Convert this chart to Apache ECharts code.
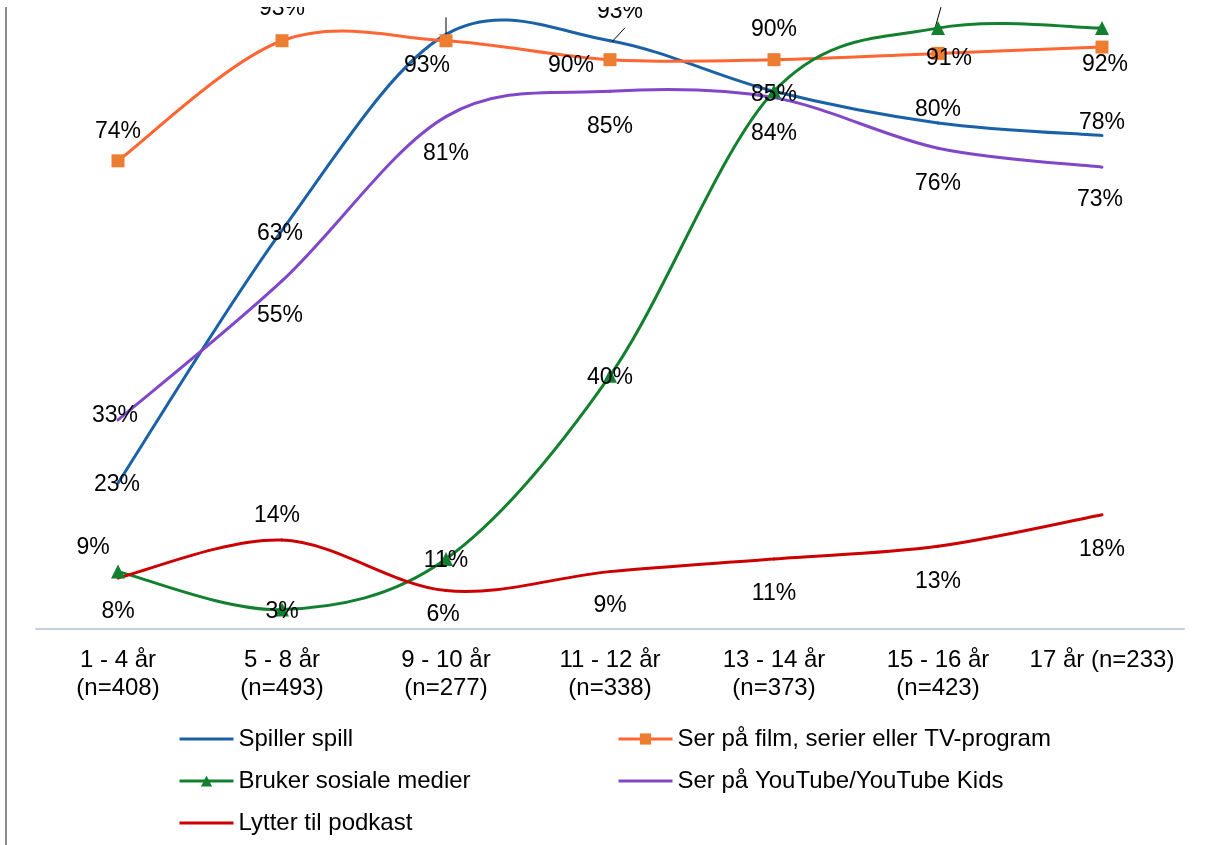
<!DOCTYPE html>
<html>
<head>
<meta charset="utf-8">
<script src="https://cdn.jsdelivr.net/npm/echarts@6/dist/echarts.min.js"></script>
<style>
  html, body { margin: 0; padding: 0; background: #fff; }
  body { position: relative; width: 1208px; height: 845px; overflow: hidden; }
  #chart { position: absolute; left: 0; top: 7px; width: 1208px; height: 838px; }
</style>
</head>
<body>
<div id="chart"></div>
<script>
// Age groups (with sample sizes) along the x axis
const ageGroups = [
  '1 - 4 år\n(n=408)',
  '5 - 8 år\n(n=493)',
  '9 - 10 år\n(n=277)',
  '11 - 12 år\n(n=338)',
  '13 - 14 år\n(n=373)',
  '15 - 16 år\n(n=423)',
  '17 år (n=233)'
];

// Share of children doing each activity, in percent
const spillerSpill   = [23, 63, 94, 93, 85, 80, 78];
const serPaFilm      = [74, 93, 93, 90, 90, 91, 92];
const sosialeMedier  = [9, 3, 11, 40, 85, 95, 95];
const serPaYouTube   = [33, 55, 81, 85, 84, 76, 73];
const lytterPodkast  = [8, 14, 6, 9, 11, 13, 18];

const seriesNames = [
  'Spiller spill',
  'Ser på film, serier eller TV-program',
  'Bruker sosiale medier',
  'Ser på YouTube/YouTube Kids',
  'Lytter til podkast'
];

// Label placement (dx, dy in px from the point) for each series
const labelShift = [
  [[-1, 2], [-2, 3], [0, -48], [10, -29], [0, 3], [0, -13], [0, -13]],
  [[0, -29], [0, -32], [-19, 25], [-39, 6], [0, -30], [11, 5], [3, 18]],
  [[-25, -24], [0, 2], [0, 2], [0, 2], [0, 3], [8, -44], [0, -70]],
  [[-3, -4], [-2, 35], [0, 37], [0, 35], [0, 36], [0, 35], [-2, 33]],
  [[0, 34], [-5, -24], [-3, 24], [0, 34], [0, 35], [0, 35], [0, 35]]
];
// Labels left out because another label with the same text sits on top
const hiddenLabels = [[4], [], [], [], []];
// Leader lines: point index, start and end offsets in px from the point
const leaders = [
  [{ i: 2, from: [0, 0], to: [0, -17] }, { i: 3, from: [2, 1], to: [15, -13] }],
  [],
  [{ i: 5, from: [-3, 0], to: [3, -21] }],
  [],
  []
];

const colors = ['#1a61a8', '#ff6633', '#12802f', '#8048c8', '#cc0000'];
const markerColors = ['#1a61a8', '#ed7d31', '#12802f', '#8048c8', '#cc0000'];
const symbols = ['circle', 'rect', 'triangle', 'circle', 'circle'];
const symbolSizes = [0, 13, 14, 0, 0];

const values = [spillerSpill, serPaFilm, sosialeMedier, serPaYouTube, lytterPodkast];
const FONT = '"Liberation Sans", Arial, sans-serif';

// Smooth curve: each data item draws the cubic segment to the next point,
// with Catmull-Rom tangents taken from the neighbouring points.
function curveSeries(vals, si) {
  return {
    type: 'custom',
    coordinateSystem: 'cartesian2d',
    silent: true,
    clip: true,
    z: 2,
    data: vals.map((v, i) => [i, v]),
    encode: { x: 0, y: 1 },
    renderItem: function (params, api) {
      const i = params.dataIndex;
      const n = vals.length;
      const pt = k => {
        const c = Math.max(0, Math.min(n - 1, k));
        return api.coord([c, vals[c]]);
      };
      const children = [];
      if (i < n - 1) {
        const p0 = pt(i - 1), p1 = pt(i), p2 = pt(i + 1), p3 = pt(i + 2);
        children.push({
          type: 'bezierCurve',
          shape: {
            x1: p1[0], y1: p1[1],
            x2: p2[0], y2: p2[1],
            cpx1: p1[0] + (p2[0] - p0[0]) / 6, cpy1: p1[1] + (p2[1] - p0[1]) / 6,
            cpx2: p2[0] - (p3[0] - p1[0]) / 6, cpy2: p2[1] - (p3[1] - p1[1]) / 6
          },
          style: { stroke: colors[si], lineWidth: 3, fill: null, lineCap: 'round' }
        });
      }
      leaders[si].filter(l => l.i === i).forEach(l => {
        const p = pt(i);
        children.push({
          type: 'line',
          shape: { x1: p[0] + l.from[0], y1: p[1] + l.from[1], x2: p[0] + l.to[0], y2: p[1] + l.to[1] },
          style: { stroke: '#000', lineWidth: 1 },
          z2: 10
        });
      });
      return { type: 'group', children: children };
    }
  };
}

// Markers, value labels and legend entries
function pointSeries(vals, si) {
  return {
    name: seriesNames[si],
    type: 'line',
    symbol: symbols[si],
    symbolSize: symbolSizes[si],
    showAllSymbol: true,
    color: colors[si],
    lineStyle: { color: colors[si], width: 3, opacity: 0 },
    itemStyle: { color: markerColors[si], borderWidth: 0 },
    emphasis: { disabled: true },
    label: {
      show: true,
      position: 'inside',
      formatter: '{c}%',
      color: '#000',
      fontSize: 23,
      fontFamily: FONT
    },
    labelLayout: function (p) {
      const s = labelShift[si][p.dataIndex];
      return { dx: s[0], dy: s[1] };
    },
    data: vals.map((v, i) => hiddenLabels[si].indexOf(i) >= 0
      ? { value: v, label: { show: false } }
      : v),
    z: 3
  };
}

const series = [];
values.forEach((vals, si) => series.push(curveSeries(vals, si)));
values.forEach((vals, si) => series.push(pointSeries(vals, si)));

// Two-column legend below the axis
const legendSlots = [
  { left: 178, top: 720 },
  { left: 617, top: 720 },
  { left: 178, top: 762 },
  { left: 617, top: 762 },
  { left: 178, top: 804 }
];
const legends = seriesNames.map((name, i) => ({
  data: [symbolSizes[i] === 0
    ? { name: name, itemStyle: { opacity: 0 } }
    : { name: name }],
  left: legendSlots[i].left,
  top: legendSlots[i].top,
  padding: 0,
  itemWidth: 54,
  itemHeight: 14,
  itemGap: 0,
  selectedMode: false,
  lineStyle: { width: 3, opacity: 1 },
  textStyle: { color: '#000', fontSize: 24, fontFamily: FONT }
}));

const chart = echarts.init(document.getElementById('chart'), null, { renderer: 'canvas' });
chart.setOption({
  animation: false,
  backgroundColor: '#fff',
  grid: {
    left: 36, right: 24, top: -10.5, bottom: 216.5,
    containLabel: false,
    outerBoundsMode: 'none'
  },
  xAxis: {
    type: 'category',
    data: ageGroups,
    boundaryGap: true,
    axisLine: { show: true, lineStyle: { color: '#c3d0e0', width: 2 } },
    axisTick: { show: false },
    axisLabel: {
      interval: 0,
      margin: 18,
      color: '#000',
      fontSize: 24,
      lineHeight: 28,
      fontFamily: FONT
    },
    splitLine: { show: false }
  },
  yAxis: {
    type: 'value',
    min: 0,
    max: 100,
    show: false,
    splitLine: { show: false }
  },
  legend: legends,
  series: series,
  graphic: [{
    type: 'line',
    shape: { x1: 6, y1: 0, x2: 6, y2: 838 },
    style: { stroke: '#8c8c8c', lineWidth: 2 },
    silent: true
  }]
});
</script>
</body>
</html>
